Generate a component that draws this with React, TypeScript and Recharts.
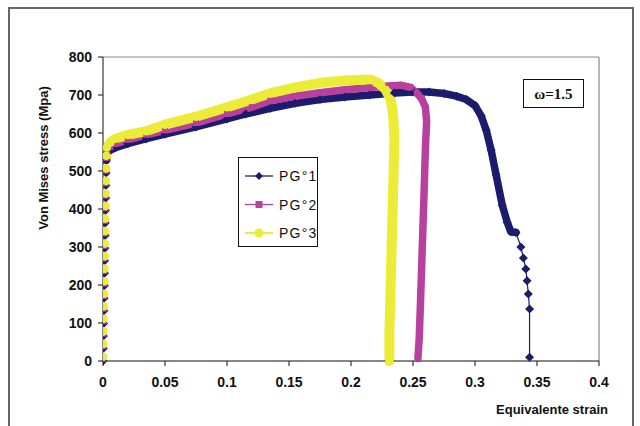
import React from "react";
import { LineChart, Line, XAxis, YAxis, ReferenceLine } from "recharts";

// Equivalent strain / von Mises stress for the three specimens
const pg1Strain = [
  0, 0.0002, 0.0003, 0.0005, 0.0007, 0.0008, 0.001, 0.0012, 0.0013, 0.0015, 0.0017, 0.0018, 0.002, 0.0022, 0.0023, 0.0025, 0.0027,
  0.0035, 0.006, 0.01, 0.02, 0.035, 0.05, 0.075, 0.1, 0.115, 0.135, 0.155, 0.175, 0.195, 0.215, 0.235, 0.25, 0.263, 0.275,
  0.285, 0.293, 0.3, 0.305, 0.309, 0.313, 0.317, 0.322, 0.326, 0.329, 0.333,
  0.337, 0.339, 0.341, 0.342, 0.343, 0.344, 0.344,
];
const pg1Stress = [
  0, 33, 66, 99, 132, 165, 198, 231, 264, 297, 330, 363, 396, 429, 462, 495, 528,
  548, 555, 561, 572, 585, 597, 616, 637, 650, 665, 678, 688, 695, 700, 705, 708, 708, 704,
  697, 688, 672, 645, 608, 555, 490, 410, 365, 340, 338,
  300, 271, 242, 211, 176, 137, 10,
];

const pg2Strain = [
  0, 0.0002, 0.0003, 0.0005, 0.0007, 0.0008, 0.001, 0.0012, 0.0013, 0.0015, 0.0017, 0.0018, 0.002, 0.0022, 0.0023, 0.0025, 0.0027,
  0.0035, 0.006, 0.01, 0.02, 0.035, 0.05, 0.075, 0.1, 0.12, 0.135, 0.155, 0.175, 0.195, 0.215, 0.23, 0.24, 0.248,
  0.253, 0.257, 0.26, 0.261, 0.26, 0.259, 0.258, 0.257, 0.256, 0.255, 0.254,
];
const pg2Stress = [
  6, 39, 72, 105, 138, 171, 204, 237, 270, 303, 336, 369, 402, 435, 468, 501, 534,
  555, 563, 571, 582, 595, 607, 626, 650, 668, 685, 697, 706, 714, 720, 724, 726, 720,
  705, 690, 668, 630, 560, 450, 350, 250, 150, 60, 8,
];

const pg3Strain = [
  0, 0.0002, 0.0003, 0.0005, 0.0007, 0.0008, 0.001, 0.0012, 0.0013, 0.0015, 0.0017, 0.0018, 0.002, 0.0022, 0.0023, 0.0025, 0.0027,
  0.003, 0.006, 0.01, 0.02, 0.035, 0.05, 0.075, 0.1, 0.12, 0.135, 0.155, 0.175, 0.195, 0.215, 0.222, 0.228, 0.232,
  0.234, 0.235, 0.234, 0.233, 0.232, 0.231, 0.231,
];
const pg3Stress = [
  12, 45, 78, 111, 144, 177, 210, 243, 276, 309, 342, 375, 408, 441, 474, 507, 540,
  562, 575, 585, 595, 605, 622, 643, 668, 688, 705, 720, 732, 738, 741, 732, 714, 688,
  645, 585, 450, 330, 200, 80, 0,
];

const seriesNames = ["PG°1", "PG°2", "PG°3"];
const xTicks = [0, 0.05, 0.1, 0.15, 0.2, 0.25, 0.3, 0.35, 0.4];
const yTicks = [0, 100, 200, 300, 400, 500, 600, 700, 800];
const xTitle = "Equivalente strain";
const yTitle = "Von Mises stress (Mpa)";
const noteText = "ω=1.5";

const NAVY = "#1c1c6c";
const MAGENTA = "#b8409e";
const YELLOW = "#ecec38";

type Pt = { e: number; s: number };
const zip = (xs: number[], ys: number[]): Pt[] => xs.map((e, i) => ({ e, s: ys[i] }));

const pg1 = zip(pg1Strain, pg1Stress);
const pg2 = zip(pg2Strain, pg2Stress);
const pg3 = zip(pg3Strain, pg3Stress);

// the densely sampled plastic part reads as a solid band
const ELASTIC = 16;
const pg1Band = pg1.slice(ELASTIC, 46);
const pg2Band = pg2.slice(ELASTIC);
const pg3Band = pg3.slice(ELASTIC);

const FONT = "'Liberation Sans', Arial, sans-serif";

function Diamond({ cx, cy, r = 4.5, fill = NAVY }: any) {
  if (cx == null || cy == null) return null;
  return <polygon points={`${cx},${cy - r} ${cx + r},${cy} ${cx},${cy + r} ${cx - r},${cy}`} fill={fill} />;
}
function Square({ cx, cy, h = 3, fill = MAGENTA }: any) {
  if (cx == null || cy == null) return null;
  return <rect x={cx - h} y={cy - h} width={2 * h} height={2 * h} fill={fill} />;
}
function Dot({ cx, cy, r = 4.3, fill = YELLOW }: any) {
  if (cx == null || cy == null) return null;
  return <circle cx={cx} cy={cy} r={r} fill={fill} />;
}

const legendMarks = [
  { color: NAVY, mark: (x: number, y: number) => <Diamond cx={x} cy={y} r={4} /> },
  { color: MAGENTA, mark: (x: number, y: number) => <Square cx={x} cy={y} h={3.5} /> },
  { color: YELLOW, mark: (x: number, y: number) => <Dot cx={x} cy={y} r={4.5} /> },
];

export default function App() {
  return (
    <div style={{ position: "absolute", left: 0, top: 0, width: 640, height: 426, background: "#fff", overflow: "hidden" }}>
      <div
        style={{
          position: "absolute",
          left: 8,
          top: 7,
          width: 622,
          height: 440,
          borderTop: "2px solid #666",
          borderLeft: "2px solid #666",
          borderRight: "2px solid #666",
        }}
      />
      <LineChart
        width={640}
        height={426}
        margin={{ top: 57, right: 41, bottom: 35, left: 43 }}
        style={{ position: "absolute", left: 0, top: 0 }}
      >
        <XAxis
          type="number"
          dataKey="e"
          domain={[0, 0.4]}
          ticks={xTicks}
          tickFormatter={(v: number) => String(v)}
          allowDataOverflow
          height={30}
          tickSize={5}
          tickMargin={11}
          stroke="#111"
          tick={{ fill: "#111", fontSize: 14, fontWeight: 700, fontFamily: FONT }}
        />
        <YAxis
          type="number"
          dataKey="s"
          domain={[0, 800]}
          ticks={yTicks}
          width={60}
          tickSize={5}
          tickMargin={6}
          stroke="#111"
          tick={{ fill: "#111", fontSize: 14, fontWeight: 700, fontFamily: FONT }}
        />
        <ReferenceLine y={800} stroke="#888" strokeWidth={1.2} />
        <ReferenceLine x={0.4} stroke="#888" strokeWidth={1.2} />

        <Line data={pg1Band} dataKey="s" type="linear" stroke={NAVY} strokeWidth={7.5} strokeLinejoin="round" strokeLinecap="round" dot={false} isAnimationActive={false} />
        <Line
          data={pg1}
          dataKey="s"
          name={seriesNames[0]}
          type="linear"
          stroke={NAVY}
          strokeWidth={1.2}
          dot={(p: any) => <Diamond key={`d1-${p.index}`} cx={p.cx} cy={p.cy} />}
          isAnimationActive={false}
        />

        <Line data={pg2Band} dataKey="s" type="linear" stroke={MAGENTA} strokeWidth={7.5} strokeLinejoin="round" strokeLinecap="round" dot={false} isAnimationActive={false} />
        <Line
          data={pg2}
          dataKey="s"
          name={seriesNames[1]}
          type="linear"
          stroke={MAGENTA}
          strokeWidth={1.2}
          dot={(p: any) => <Square key={`d2-${p.index}`} cx={p.cx} cy={p.cy} />}
          isAnimationActive={false}
        />

        <Line data={pg3Band} dataKey="s" type="linear" stroke={YELLOW} strokeWidth={10} strokeLinejoin="round" strokeLinecap="round" dot={false} isAnimationActive={false} />
        <Line
          data={pg3}
          dataKey="s"
          name={seriesNames[2]}
          type="linear"
          stroke={YELLOW}
          strokeWidth={1.5}
          dot={(p: any) => <Dot key={`d3-${p.index}`} cx={p.cx} cy={p.cy} />}
          isAnimationActive={false}
        />

        <text x={608} y={414} textAnchor="end" fontFamily={FONT} fontSize={13} fontWeight={700} fill="#111">
          {xTitle}
        </text>
        <text
          x={0}
          y={0}
          transform="translate(48,158) rotate(-90)"
          textAnchor="middle"
          fontFamily={FONT}
          fontSize={13}
          fontWeight={700}
          fill="#111"
        >
          {yTitle}
        </text>

        {/* legend */}
        <rect x={238.5} y={157.5} width={79} height={89} fill="#fff" stroke="#111" strokeWidth={1} />
        {legendMarks.map((m, i) => {
          const y = 176 + i * 28.5;
          return (
            <g key={seriesNames[i]}>
              <line x1={245} x2={273} y1={y} y2={y} stroke={m.color} strokeWidth={i === 2 ? 2.2 : 1.3} />
              {m.mark(259, y)}
              <text x={279} y={y + 5} fontFamily={FONT} fontSize={14} letterSpacing={1.2} fill="#111">
                {seriesNames[i]}
              </text>
            </g>
          );
        })}

        {/* annotation box */}
        <rect x={523.5} y={79.5} width={60} height={28} fill="#fff" stroke="#111" strokeWidth={1} />
        <text x={553.5} y={99} textAnchor="middle" fontFamily="'Liberation Serif', 'Times New Roman', serif" fontSize={15} fontWeight={700} fill="#111">
          {noteText}
        </text>
      </LineChart>
    </div>
  );
}
